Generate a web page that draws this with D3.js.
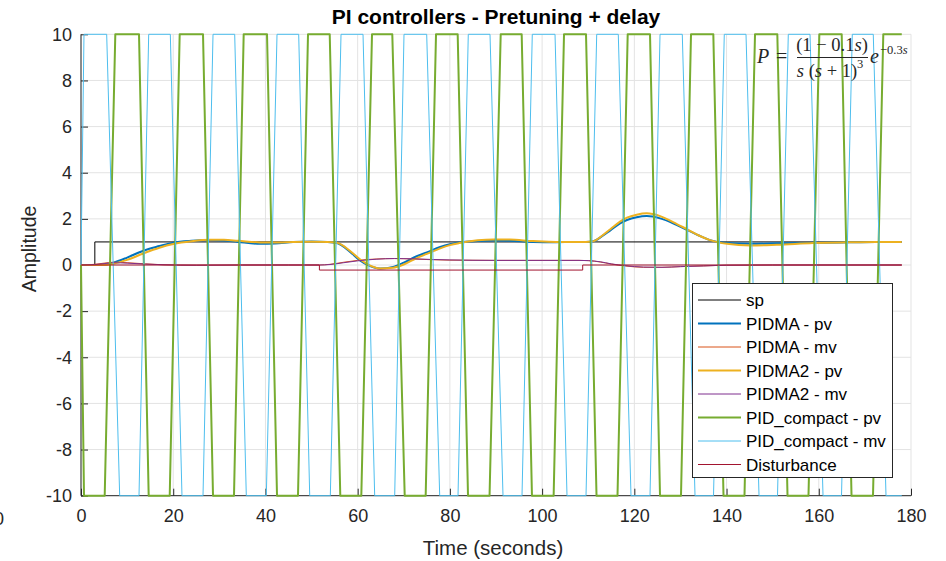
<!DOCTYPE html>
<html><head><meta charset="utf-8">
<script src="https://cdn.jsdelivr.net/npm/d3@7"></script>
<style>body{margin:0;background:#fff;} svg{display:block;}</style>
</head><body>
<svg id="chart" width="946" height="561"></svg>
<script>
// ---------------- data ----------------
const xTicks = [0, 20, 40, 60, 80, 100, 120, 140, 160, 180];
const yTicks = [-10, -8, -6, -4, -2, 0, 2, 4, 6, 8, 10];

const spT = [0, 3, 3, 178];
const spY = [0, 0, 1, 1];

const pvT = [0, 3, 5, 7, 10, 13.5, 17, 20, 24, 28, 31, 34, 38.8, 42, 46, 50, 53.5, 55.5, 58.3, 60.5, 62, 64.9, 67.7, 70, 72.8, 75, 77.9, 80, 82, 86, 89.4, 93, 98, 103, 107, 109.5, 111.1, 113, 114.8, 116.9, 118.4, 120.5, 122.7, 125.6, 128.5, 131.4, 134, 136.4, 140.1, 145.2, 150.9, 158.8, 165, 169, 178];
const pidmaPv = [0, 0, 0.01, 0.1, 0.32, 0.62, 0.82, 0.97, 1.05, 1.08, 1.06, 1.0, 0.92, 0.93, 1.0, 1.02, 1.0, 0.95, 0.58, 0.2, 0.02, -0.15, -0.08, 0.1, 0.38, 0.55, 0.78, 0.9, 0.98, 1.04, 1.06, 1.05, 1.0, 0.99, 1.0, 1.0, 1.03, 1.25, 1.5, 1.8, 1.95, 2.07, 2.12, 2.02, 1.8, 1.52, 1.28, 1.08, 0.95, 0.92, 0.94, 0.96, 0.98, 0.99, 1.0];
const pidma2Pv = [0, 0, 0, 0.05, 0.22, 0.5, 0.75, 0.91, 1.03, 1.09, 1.09, 1.05, 0.98, 0.97, 1.0, 1.01, 1.0, 0.96, 0.62, 0.25, 0.05, -0.15, -0.12, 0.02, 0.3, 0.48, 0.72, 0.86, 0.95, 1.07, 1.11, 1.1, 1.04, 1.0, 1.0, 1.0, 1.03, 1.27, 1.55, 1.88, 2.05, 2.18, 2.24, 2.12, 1.85, 1.55, 1.28, 1.08, 0.92, 0.85, 0.88, 0.95, 0.98, 0.99, 1.0];

const mvT = [0, 3, 5, 7, 10, 14, 18, 25, 35, 45, 51.7, 54, 57, 60, 64, 68, 72, 76, 80, 90, 100, 108, 110, 112.6, 115, 118, 122, 126, 130, 135, 140, 150, 160, 178];
const pidmaMv = [0, 0.03, 0.08, 0.12, 0.1, 0.05, 0.01, -0.01, 0, 0, 0, 0.03, 0.12, 0.2, 0.26, 0.28, 0.26, 0.23, 0.21, 0.2, 0.2, 0.2, 0.19, 0.13, 0.04, -0.04, -0.1, -0.1, -0.07, -0.04, -0.01, 0, 0, 0];
const pidma2Mv = [0, 0.02, 0.06, 0.1, 0.08, 0.04, 0.01, -0.01, 0, 0, 0, 0.02, 0.1, 0.18, 0.25, 0.28, 0.27, 0.24, 0.22, 0.2, 0.2, 0.2, 0.19, 0.14, 0.05, -0.03, -0.09, -0.1, -0.07, -0.04, -0.01, 0, 0, 0];

const distT = [0, 51.7, 51.7, 108.8, 108.8, 178];
const distY = [0, 0, -0.22, -0.22, 0, 0];

const compPvT = [0, 0.65, 5.14, 7.44, 12.58, 14.68, 19.24, 21.40, 26.46, 28.63, 33.18, 35.28, 40.34, 42.51, 47.06, 49.23, 53.94, 56.23, 60.79, 63.11, 67.51, 70.20, 74.75, 76.99, 81.69, 83.93, 88.60, 91.02, 95.57, 97.80, 102.50, 104.75, 109.52, 111.80, 116.35, 118.56, 123.40, 125.57, 130.12, 132.29, 137.13, 139.34, 143.89, 146.17, 151.01, 153.22, 157.77, 160.12, 164.97, 167.10, 171.76, 173.99, 178.0];
const compPvY = [0, -10, -10, 10, 10, -10, -10, 10, 10, -10, -10, 10, 10, -10, -10, 10, 10, -10, -10, 10, 10, -10, -10, 10, 10, -10, -10, 10, 10, -10, -10, 10, 10, -10, -10, 10, 10, -10, -10, 10, 10, -10, -10, 10, 10, -10, -10, 10, 10, -10, -10, 10, 10];

const compMvT = [0, 0.65, 5.57, 8.39, 12.58, 14.68, 19.37, 21.90, 26.46, 28.63, 33.33, 35.85, 40.19, 42.51, 47.21, 49.60, 54.07, 56.39, 61.16, 63.69, 68.03, 70.05, 74.97, 77.79, 81.76, 83.99, 88.70, 91.52, 95.64, 97.87, 102.80, 105.40, 109.52, 111.84, 116.52, 119.28, 123.40, 125.57, 130.40, 133.16, 137.17, 139.51, 144.22, 147.04, 151.05, 153.39, 158.10, 160.92, 164.93, 167.27, 171.82, 174.58, 178.0];
const compMvY = [0, 10, 10, -10, -10, 10, 10, -10, -10, 10, 10, -10, -10, 10, 10, -10, -10, 10, 10, -10, -10, 10, 10, -10, -10, 10, 10, -10, -10, 10, 10, -10, -10, 10, 10, -10, -10, 10, 10, -10, -10, 10, 10, -10, -10, 10, 10, -10, -10, 10, 10, -10, -10];

const legendLabels = ["sp", "PIDMA - pv", "PIDMA - mv", "PIDMA2 - pv", "PIDMA2 - mv", "PID_compact - pv", "PID_compact - mv", "Disturbance"];

// ---------------- drawing ----------------
const svg = d3.select("#chart");
const FONT = "'Liberation Sans', Arial, Helvetica, sans-serif";
const AX = "#262626";
const x = d3.scaleLinear().domain([0, 180]).range([81, 911]);
const y = d3.scaleLinear().domain([-10, 10]).range([495.7, 34.3]);

svg.append("rect").attr("width", 946).attr("height", 561).attr("fill", "#fff");

// grid
const grid = svg.append("g");
grid.selectAll("line.gx").data(xTicks).enter().append("line")
  .attr("x1", d => x(d)).attr("x2", d => x(d)).attr("y1", y(-10)).attr("y2", y(10))
  .attr("stroke", "#e3e3e3").attr("stroke-width", 1);
grid.selectAll("line.gy").data(yTicks).enter().append("line")
  .attr("x1", x(0)).attr("x2", x(180)).attr("y1", d => y(d)).attr("y2", d => y(d))
  .attr("stroke", "#e3e3e3").attr("stroke-width", 1);

// axes
const fmt = d => String(d);
const xAxis = d3.axisBottom(x).tickValues(xTicks).tickSize(-7).tickPadding(14).tickFormat(fmt);
const yAxis = d3.axisLeft(y).tickValues(yTicks).tickSize(-7).tickPadding(9).tickFormat(fmt);
const gx = svg.append("g").attr("transform", `translate(0,${y(-10)})`).call(xAxis);
const gy = svg.append("g").attr("transform", `translate(${x(0)},0)`).call(yAxis);
[gx, gy].forEach(g => {
  g.select(".domain").attr("stroke", AX);
  g.selectAll(".tick line").attr("stroke", AX);
  g.selectAll(".tick text").attr("fill", AX).attr("font-family", FONT).attr("font-size", 18);
});
gx.select(".domain").attr("d", `M${x(0)},0H${x(180)}`);
gy.select(".domain").attr("d", `M0,${y(-10)}V${y(10)}`);

// stray clipped "0" at the far left (as in the reference)
svg.append("text").attr("x", -1).attr("y", y(-10) + 29).attr("text-anchor", "middle")
  .attr("font-family", FONT).attr("font-size", 18).attr("fill", AX).text("0");

// lines
const lineSmooth = d3.line().x(d => x(d[0])).y(d => y(d[1])).curve(d3.curveMonotoneX);
const lineLin = d3.line().x(d => x(d[0])).y(d => y(d[1]));
const zip = (a, b) => a.map((v, i) => [v, b[i]]);

const series = [
  {pts: zip(spT, spY), gen: lineLin, color: "#000000", w: 1},
  {pts: zip(pvT, pidmaPv), gen: lineSmooth, color: "#0072BD", w: 2},
  {pts: zip(mvT, pidmaMv), gen: lineSmooth, color: "#D95319", w: 1},
  {pts: zip(pvT, pidma2Pv), gen: lineSmooth, color: "#EDB120", w: 2},
  {pts: zip(mvT, pidma2Mv), gen: lineSmooth, color: "#7E2F8E", w: 1},
  {pts: zip(compPvT, compPvY), gen: lineLin, color: "#77AC30", w: 2},
  {pts: zip(compMvT, compMvY), gen: lineLin, color: "#4DBEEE", w: 1},
  {pts: zip(distT, distY), gen: lineLin, color: "#A2142F", w: 1}
];
const gl = svg.append("g");
series.forEach(s => {
  gl.append("path").attr("d", s.gen(s.pts)).attr("fill", "none")
    .attr("stroke", s.color).attr("stroke-width", s.w).attr("stroke-linejoin", "round");
});

// title and labels
svg.append("text").attr("x", 496).attr("y", 24).attr("text-anchor", "middle")
  .attr("font-family", FONT).attr("font-weight", "bold").attr("font-size", 21).attr("fill", "#000")
  .text("PI controllers - Pretuning + delay");
svg.append("text").attr("x", 493).attr("y", 555).attr("text-anchor", "middle")
  .attr("font-family", FONT).attr("font-size", 20.5).attr("fill", AX).text("Time (seconds)");
svg.append("text").attr("transform", "translate(36,249) rotate(-90)").attr("text-anchor", "middle")
  .attr("font-family", FONT).attr("font-size", 19.5).attr("fill", AX).text("Amplitude");

// formula
const SERIF = "'Liberation Serif', 'DejaVu Serif', serif";
const fm = svg.append("g").attr("font-family", SERIF).attr("fill", "#262626");
fm.append("text").attr("x", 757).attr("y", 63).attr("font-size", 20).attr("font-style", "italic").text("P");
fm.append("text").attr("x", 776).attr("y", 63).attr("font-size", 20).text("=");
const num = fm.append("text").attr("x", 832).attr("y", 51).attr("font-size", 18.5).attr("text-anchor", "middle");
num.append("tspan").text("(1 \u2212 0.1");
num.append("tspan").attr("font-style", "italic").text("s");
num.append("tspan").text(")");
fm.append("line").attr("x1", 797).attr("x2", 868).attr("y1", 57.5).attr("y2", 57.5).attr("stroke", "#262626").attr("stroke-width", 1);
const den = fm.append("text").attr("x", 827).attr("y", 77).attr("font-size", 18.5).attr("text-anchor", "middle");
den.append("tspan").attr("font-style", "italic").text("s");
den.append("tspan").text(" (");
den.append("tspan").attr("font-style", "italic").text("s");
den.append("tspan").text(" + 1)");
fm.append("text").attr("x", 857).attr("y", 68).attr("font-size", 12.5).text("3");
fm.append("text").attr("x", 870).attr("y", 63).attr("font-size", 20).attr("font-style", "italic").text("e");
const ex = fm.append("text").attr("x", 880).attr("y", 54).attr("font-size", 12.5);
ex.append("tspan").text("\u22120.3");
ex.append("tspan").attr("font-style", "italic").text("s");

// legend
const lg = svg.append("g");
lg.append("rect").attr("x", 692.5).attr("y", 283.5).attr("width", 200).attr("height", 194)
  .attr("fill", "#fff").attr("stroke", AX).attr("stroke-width", 1);
legendLabels.forEach((lab, i) => {
  const yy = 300 + i * 23.5;
  lg.append("line").attr("x1", 698).attr("x2", 741).attr("y1", yy).attr("y2", yy)
    .attr("stroke", series[i].color).attr("stroke-width", series[i].w);
  lg.append("text").attr("x", 746).attr("y", yy + 6).attr("font-family", FONT)
    .attr("font-size", 17).attr("fill", "#000").text(lab);
});
</script>
</body></html>
